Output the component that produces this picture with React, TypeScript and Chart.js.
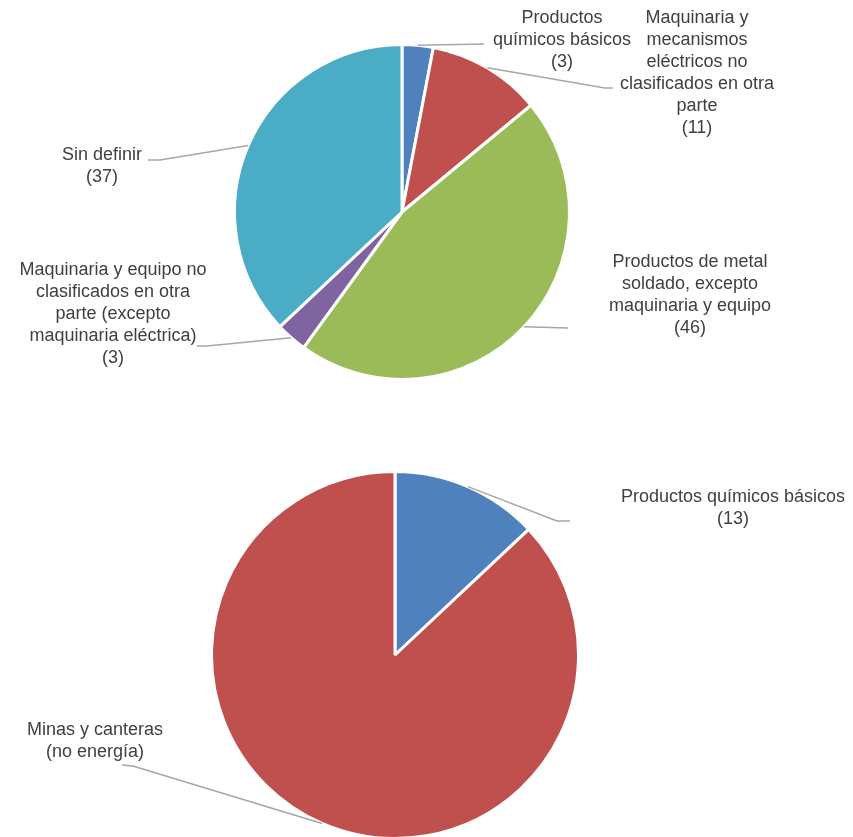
import React, { useEffect, useRef } from "react";
import { Chart, registerables } from "chart.js";

Chart.register(...registerables);

// ---- Data ----
const topCategories = [
  "Productos químicos básicos",
  "Maquinaria y mecanismos eléctricos no clasificados en otra parte",
  "Productos de metal soldado, excepto maquinaria y equipo",
  "Maquinaria y equipo no clasificados en otra parte (excepto maquinaria eléctrica)",
  "Sin definir",
];
const topValues = [3, 11, 46, 3, 37];
const topColors = ["#4F81BD", "#C0504D", "#9BBB59", "#8064A2", "#4BACC6"];

const bottomCategories = ["Productos químicos básicos", "Minas y canteras (no energía)"];
const bottomValues = [13, 87];
const bottomColors = ["#4F81BD", "#C0504D"];

// ---- Label layout (wrapping and placement, relative to pie center) ----
type LabelLayout = {
  lines: string[];
  showValue: boolean;
  tx: number;
  ty: number;
  path: [number, number][];
};

const topLabels: LabelLayout[] = [
  { lines: ["Productos", "químicos básicos"], showValue: true, tx: 160, ty: -194, path: [[82, -168]] },
  {
    lines: ["Maquinaria y", "mecanismos", "eléctricos no", "clasificados en otra", "parte"],
    showValue: true,
    tx: 295,
    ty: -194,
    path: [[203, -124], [211, -124]],
  },
  {
    lines: ["Productos de metal", "soldado, excepto", "maquinaria y equipo"],
    showValue: true,
    tx: 288,
    ty: 50,
    path: [[166, 116]],
  },
  {
    lines: ["Maquinaria y equipo no", "clasificados en otra", "parte (excepto", "maquinaria eléctrica)"],
    showValue: true,
    tx: -289,
    ty: 58,
    path: [[-195, 134], [-205, 134]],
  },
  { lines: ["Sin definir"], showValue: true, tx: -300, ty: -57, path: [[-242, -52], [-254, -52]] },
];

const bottomLabels: LabelLayout[] = [
  { lines: ["Productos químicos básicos"], showValue: true, tx: 338, ty: -158, path: [[162, -134], [175, -134]] },
  { lines: ["Minas y canteras", "(no energía)"], showValue: false, tx: -300, ty: 75, path: [[-262, 111], [-273, 110]] },
];

const FONT = '18px "Liberation Sans", Arial, sans-serif';
const LINE_H = 22;

function makeLabelPlugin(labels: LabelLayout[], values: number[]) {
  return {
    id: "pieLabels",
    afterDatasetsDraw(chart: any) {
      const ctx = chart.ctx;
      const meta = chart.getDatasetMeta(0);
      ctx.save();
      meta.data.forEach((arc: any, i: number) => {
        const lab = labels[i];
        if (!lab) return;
        const p = arc.getProps(["x", "y", "startAngle", "endAngle", "outerRadius"], true);
        const mid = (p.startAngle + p.endAngle) / 2;
        const sx = p.x + Math.cos(mid) * p.outerRadius;
        const sy = p.y + Math.sin(mid) * p.outerRadius;
        ctx.beginPath();
        ctx.strokeStyle = "#A6A6A6";
        ctx.lineWidth = 1.5;
        ctx.moveTo(sx, sy);
        lab.path.forEach(([dx, dy]) => ctx.lineTo(p.x + dx, p.y + dy));
        ctx.stroke();

        const lines = lab.showValue ? [...lab.lines, `(${values[i]})`] : lab.lines;
        ctx.fillStyle = "#404040";
        ctx.font = FONT;
        ctx.textAlign = "center";
        ctx.textBaseline = "middle";
        lines.forEach((t, k) => {
          ctx.fillText(t, p.x + lab.tx, p.y + lab.ty + k * LINE_H);
        });
      });
      ctx.restore();
    },
  };
}

function PieCanvas(props: {
  top: number;
  height: number;
  padding: { left: number; right: number; top: number; bottom: number };
  categories: string[];
  values: number[];
  colors: string[];
  labels: LabelLayout[];
}) {
  const ref = useRef<HTMLCanvasElement>(null);
  useEffect(() => {
    if (!ref.current) return;
    const chart = new Chart(ref.current, {
      type: "pie",
      data: {
        labels: props.categories,
        datasets: [
          {
            data: props.values,
            backgroundColor: props.colors,
            borderColor: "#FFFFFF",
            borderWidth: 3,
          },
        ],
      },
      options: {
        responsive: false,
        maintainAspectRatio: false,
        animation: false,
        layout: { padding: props.padding },
        plugins: { legend: { display: false }, tooltip: { enabled: false } },
        events: [],
      },
      plugins: [makeLabelPlugin(props.labels, props.values)],
    } as any);
    return () => chart.destroy();
  }, []);
  return (
    <canvas
      ref={ref}
      width={853}
      height={props.height}
      style={{ position: "absolute", left: 0, top: props.top, width: 853, height: props.height }}
    />
  );
}

export default function App() {
  return (
    <div style={{ position: "fixed", left: 0, top: 0, width: 853, height: 837, background: "#FFFFFF", overflow: "hidden" }}>
      <PieCanvas
        top={0}
        height={400}
        padding={{ left: 233, right: 282, top: 43, bottom: 19 }}
        categories={topCategories}
        values={topValues}
        colors={topColors}
        labels={topLabels}
      />
      <PieCanvas
        top={420}
        height={420}
        padding={{ left: 210, right: 273, top: 50, bottom: 0 }}
        categories={bottomCategories}
        values={bottomValues}
        colors={bottomColors}
        labels={bottomLabels}
      />
    </div>
  );
}
